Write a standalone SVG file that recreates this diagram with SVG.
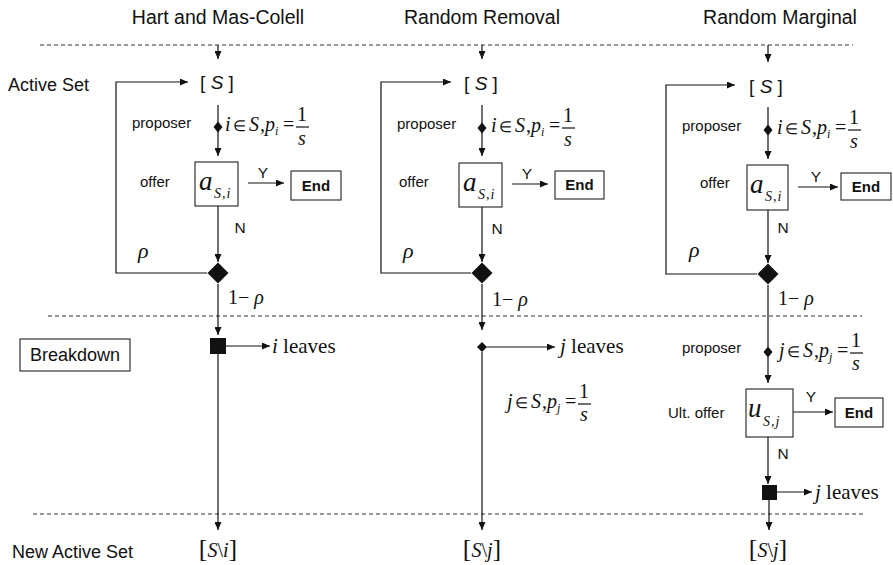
<svg xmlns="http://www.w3.org/2000/svg" width="893" height="565" viewBox="0 0 893 565">
  <style>
    .ln { stroke: #111; stroke-width: 1.2; fill: none; }
    .arr { stroke: #111; stroke-width: 1.2; fill: none; marker-end: url(#ah); }
    .dash { stroke: #333; stroke-width: 1; stroke-dasharray: 4 3; fill: none; }
    .box { fill: #fff; stroke: #222; stroke-width: 1.1; }
    .blk { fill: #111; stroke: none; }
    .sans { font-family: "Liberation Sans", Arial, sans-serif; fill: #111; }
    .hdr { font-size: 19.5px; text-anchor: middle; }
    .side { font-size: 18px; }
    .lab { font-size: 15px; }
    .yn { font-size: 15.5px; text-anchor: middle; }
    .end { font-size: 15px; font-weight: bold; text-anchor: middle; }
    .set { font-size: 19px; text-anchor: middle; }
    .m { font-family: "Liberation Serif", "Times New Roman", serif; fill: #111; font-size: 20px; }
    .it { font-style: italic; }
    .mid { text-anchor: middle; }
    .el { font-size: 15px; }
    .sub { font-size: 12px; }
    .big { font-size: 27px; }
    .ix { font-size: 14px; letter-spacing: 1px; }
    .gr { font-size: 22px; }
    .lv { font-size: 21px; }
    .br { font-size: 26px; }
  </style>
  <defs>
    <marker id="ah" markerUnits="userSpaceOnUse" markerWidth="8" markerHeight="7" refX="8" refY="3.5" orient="auto">
      <path d="M0,0 L8,3.5 L0,7 z" fill="#111"/>
    </marker>
  </defs>

  <!-- column headings and row labels -->
  <g id="headings">
    <text class="sans hdr" x="218" y="24">Hart and Mas-Colell</text>
    <text class="sans hdr" x="482" y="24">Random Removal</text>
    <text class="sans hdr" x="780" y="24">Random Marginal</text>
    <text class="sans side" x="8" y="91">Active Set</text>
    <text class="sans side" x="12" y="558">New Active Set</text>
  </g>
  <g id="breakdown">
    <rect class="box" x="20" y="339" width="110" height="32"/>
    <text class="sans side" x="75" y="361" text-anchor="middle">Breakdown</text>
  </g>

  <!-- stage separators -->
  <g id="separators">
    <line class="dash" x1="40" y1="45" x2="853" y2="45"/>
    <line class="dash" x1="48" y1="316" x2="862" y2="316"/>
    <line class="dash" x1="33" y1="514" x2="866" y2="514"/>
  </g>

  <!-- connectors -->
  <g id="connectors">
    <!-- Hart and Mas-Colell -->
    <path class="arr" d="M218,45 V59"/>
    <path class="arr" d="M207,273 H116 V82 H188"/>
    <path class="arr" d="M218,105 V156"/>
    <path class="arr" d="M248,183 H284"/>
    <path class="arr" d="M218,206 V262"/>
    <path class="arr" d="M218,284 V335"/>
    <path class="arr" d="M226,346 H270"/>
    <path class="arr" d="M218,354 V530"/>
    <!-- Random Removal -->
    <path class="arr" d="M482,45 V59"/>
    <path class="arr" d="M471,273 H381 V82 H451"/>
    <path class="arr" d="M482,105 V156"/>
    <path class="arr" d="M512,184 H548"/>
    <path class="arr" d="M482,207 V262"/>
    <path class="arr" d="M482,284 V330"/>
    <path class="arr" d="M487,347 H555"/>
    <path class="arr" d="M482,352 V530"/>
    <!-- Random Marginal -->
    <path class="arr" d="M768,45 V62"/>
    <path class="arr" d="M757,274 H666 V85 H735"/>
    <path class="arr" d="M768,107 V159"/>
    <path class="arr" d="M798,187 H838"/>
    <path class="arr" d="M768,210 V263"/>
    <path class="ln" d="M768,285 V347"/>
    <path class="arr" d="M768,357 V383"/>
    <path class="arr" d="M793,412 H833"/>
    <path class="arr" d="M768,437 V484"/>
    <path class="arr" d="M777,492 H812"/>
    <path class="arr" d="M769,500 V530"/>
  </g>

  <!-- ===== Hart and Mas-Colell ===== -->
  <g id="hmc-set">
    <text class="sans set" x="217" y="89">[ <tspan class="it">S</tspan> ]</text>
  </g>
  <g id="hmc-proposer">
    <polygon class="blk" points="218,121.5 222.5,127 218,132.5 213.5,127"/>
    <text class="sans lab" x="132" y="128">proposer</text>
    <text class="m it" x="225" y="131">i</text>
    <text class="m el" x="233" y="131">∈</text>
    <text class="m it" x="249" y="131">S</text>
    <text class="m" x="260" y="131">,</text>
    <text class="m it" x="265" y="131">p</text>
    <text class="m it sub" x="275" y="135">i</text>
    <text class="m" x="283" y="131">=</text>
    <text class="m mid" x="302" y="121">1</text>
    <line class="ln" x1="296" y1="127" x2="309" y2="127"/>
    <text class="m it mid" x="302" y="145">s</text>
  </g>
  <g id="hmc-offer">
    <rect class="box" x="195" y="162" width="43" height="44"/>
    <text class="sans lab" x="140" y="187">offer</text>
    <text class="m it big" x="199" y="190">a</text>
    <text class="m it ix" x="214" y="198">S,i</text>
    <text class="sans yn" x="263" y="178">Y</text>
    <text class="sans yn" x="240" y="233">N</text>
  </g>
  <g id="hmc-end">
    <rect class="box" x="291" y="171" width="50" height="29"/>
    <text class="sans end" x="316" y="191">End</text>
  </g>
  <g id="hmc-chance">
    <polygon class="blk" points="218,262.5 228.5,273 218,283.5 207.5,273"/>
    <text class="m it gr" x="138" y="258">ρ</text>
    <text class="m" x="228" y="304">1− <tspan class="it">ρ</tspan></text>
  </g>
  <g id="hmc-leave">
    <rect class="blk" x="210" y="338" width="16" height="16"/>
    <text class="m lv" x="272" y="353"><tspan class="it">i</tspan> leaves</text>
  </g>
  <g id="hmc-new">
    <text class="m mid" x="218" y="557"><tspan class="br">[</tspan><tspan class="it">S</tspan>\<tspan class="it">i</tspan><tspan class="br">]</tspan></text>
  </g>

  <!-- ===== Random Removal ===== -->
  <g id="rr-set">
    <text class="sans set" x="481" y="90">[ <tspan class="it">S</tspan> ]</text>
  </g>
  <g id="rr-proposer">
    <polygon class="blk" points="482,122.5 486.5,128 482,133.5 477.5,128"/>
    <text class="sans lab" x="397" y="129">proposer</text>
    <text class="m it" x="491" y="132">i</text>
    <text class="m el" x="499" y="132">∈</text>
    <text class="m it" x="515" y="132">S</text>
    <text class="m" x="526" y="132">,</text>
    <text class="m it" x="531" y="132">p</text>
    <text class="m it sub" x="541" y="136">i</text>
    <text class="m" x="549" y="132">=</text>
    <text class="m mid" x="568" y="122">1</text>
    <line class="ln" x1="562" y1="128" x2="575" y2="128"/>
    <text class="m it mid" x="568" y="146">s</text>
  </g>
  <g id="rr-offer">
    <rect class="box" x="459" y="163" width="43" height="44"/>
    <text class="sans lab" x="399" y="187">offer</text>
    <text class="m it big" x="463" y="191">a</text>
    <text class="m it ix" x="478" y="199">S,i</text>
    <text class="sans yn" x="527" y="179">Y</text>
    <text class="sans yn" x="497" y="234">N</text>
  </g>
  <g id="rr-end">
    <rect class="box" x="555" y="171" width="49" height="28"/>
    <text class="sans end" x="579.5" y="190">End</text>
  </g>
  <g id="rr-chance">
    <polygon class="blk" points="482,262.5 492.5,273 482,283.5 471.5,273"/>
    <text class="m it gr" x="403" y="258">ρ</text>
    <text class="m" x="492" y="306">1− <tspan class="it">ρ</tspan></text>
  </g>
  <g id="rr-leave">
    <polygon class="blk" points="482,342 487,347 482,352 477,347"/>
    <text class="m lv" x="560" y="353"><tspan class="it">j</tspan> leaves</text>
    <text class="m it" x="507" y="408">j</text>
    <text class="m el" x="515" y="408">∈</text>
    <text class="m it" x="531" y="408">S</text>
    <text class="m" x="542" y="408">,</text>
    <text class="m it" x="547" y="408">p</text>
    <text class="m it sub" x="557" y="412">j</text>
    <text class="m" x="565" y="408">=</text>
    <text class="m mid" x="584" y="398">1</text>
    <line class="ln" x1="578" y1="404" x2="591" y2="404"/>
    <text class="m it mid" x="584" y="421">s</text>
  </g>
  <g id="rr-new">
    <text class="m mid" x="482" y="557"><tspan class="br">[</tspan><tspan class="it">S</tspan>\<tspan class="it">j</tspan><tspan class="br">]</tspan></text>
  </g>

  <!-- ===== Random Marginal ===== -->
  <g id="rm-set">
    <text class="sans set" x="766" y="93">[ <tspan class="it">S</tspan> ]</text>
  </g>
  <g id="rm-proposer">
    <polygon class="blk" points="768,124.5 772.5,130 768,135.5 763.5,130"/>
    <text class="sans lab" x="682" y="131">proposer</text>
    <text class="m it" x="777" y="134">i</text>
    <text class="m el" x="785" y="134">∈</text>
    <text class="m it" x="801" y="134">S</text>
    <text class="m" x="812" y="134">,</text>
    <text class="m it" x="817" y="134">p</text>
    <text class="m it sub" x="827" y="138">i</text>
    <text class="m" x="835" y="134">=</text>
    <text class="m mid" x="854" y="124">1</text>
    <line class="ln" x1="848" y1="130" x2="861" y2="130"/>
    <text class="m it mid" x="854" y="148">s</text>
  </g>
  <g id="rm-offer">
    <rect class="box" x="747" y="165" width="41" height="45"/>
    <text class="sans lab" x="700" y="188">offer</text>
    <text class="m it big" x="750" y="193">a</text>
    <text class="m it ix" x="765" y="201">S,i</text>
    <text class="sans yn" x="816" y="182">Y</text>
    <text class="sans yn" x="783" y="233">N</text>
  </g>
  <g id="rm-end">
    <rect class="box" x="841" y="173" width="50" height="27"/>
    <text class="sans end" x="866" y="192">End</text>
  </g>
  <g id="rm-chance">
    <polygon class="blk" points="768,263.5 778.5,274 768,284.5 757.5,274"/>
    <text class="m it gr" x="689" y="257">ρ</text>
    <text class="m" x="778" y="305">1− <tspan class="it">ρ</tspan></text>
  </g>
  <g id="rm-proposer2">
    <polygon class="blk" points="768,346.5 772.5,352 768,357.5 763.5,352"/>
    <text class="sans lab" x="682" y="353">proposer</text>
    <text class="m it" x="779" y="357">j</text>
    <text class="m el" x="787" y="357">∈</text>
    <text class="m it" x="803" y="357">S</text>
    <text class="m" x="814" y="357">,</text>
    <text class="m it" x="819" y="357">p</text>
    <text class="m it sub" x="829" y="361">j</text>
    <text class="m" x="837" y="357">=</text>
    <text class="m mid" x="856" y="347">1</text>
    <line class="ln" x1="850" y1="353" x2="863" y2="353"/>
    <text class="m it mid" x="856" y="370">s</text>
  </g>
  <g id="rm-ultimatum">
    <rect class="box" x="746" y="389" width="47" height="48"/>
    <text class="sans lab" x="668" y="418">Ult. offer</text>
    <text class="m it big" x="748" y="417">u</text>
    <text class="m it ix" x="763" y="426">S,j</text>
    <text class="sans yn" x="811" y="402">Y</text>
    <text class="sans yn" x="783" y="459">N</text>
  </g>
  <g id="rm-end2">
    <rect class="box" x="835" y="398" width="48" height="29"/>
    <text class="sans end" x="859" y="418">End</text>
  </g>
  <g id="rm-leave">
    <rect class="blk" x="762" y="485" width="15" height="15"/>
    <text class="m lv" x="815" y="499"><tspan class="it">j</tspan> leaves</text>
  </g>
  <g id="rm-new">
    <text class="m mid" x="768" y="557"><tspan class="br">[</tspan><tspan class="it">S</tspan>\<tspan class="it">j</tspan><tspan class="br">]</tspan></text>
  </g>
</svg>
